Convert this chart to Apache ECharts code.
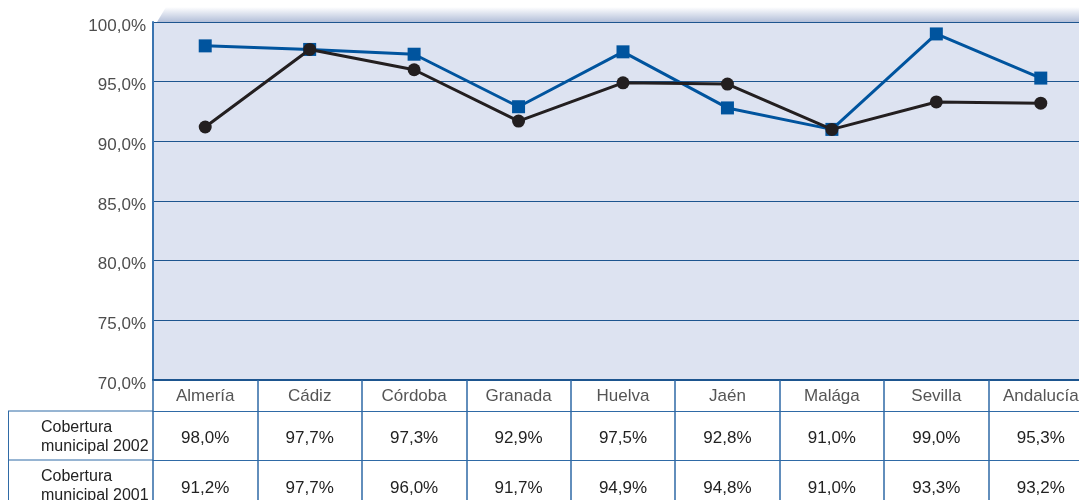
<!DOCTYPE html>
<html><head><meta charset="utf-8">
<script src="https://cdn.jsdelivr.net/npm/echarts@6/dist/echarts.min.js"></script>
<style>html,body{margin:0;padding:0;background:#fff;overflow:hidden;width:1079px;height:500px}#c{width:1093px;height:500px}</style>
</head><body><div id="c"></div>
<script>
const categories = ['Almería','Cádiz','Córdoba','Granada','Huelva','Jaén','Malága','Sevilla','Andalucía'];
const cobertura2002 = [98.0, 97.7, 97.3, 92.9, 97.5, 92.8, 91.0, 99.0, 95.3];
const cobertura2001 = [91.2, 97.7, 96.0, 91.7, 94.9, 94.8, 91.0, 93.3, 93.2];
const rowLabels = ['Cobertura\nmunicipal 2002', 'Cobertura\nmunicipal 2001'];
const yMin = 70, yMax = 100, yStep = 5;

const fmt = v => v.toFixed(1).replace('.', ',') + '%';
const FONT = '"Liberation Sans", Arial, sans-serif';
const chart = echarts.init(document.getElementById('c'), null, {renderer: 'canvas'});

const tableAxis = (offset, values, margin) => ({
  type: 'category', data: categories, position: 'bottom', offset: offset,
  axisLine: {show: true, lineStyle: {color: '#2f6aa6', width: 1}},
  axisTick: {show: false},
  axisLabel: {interval: 0, margin: margin, fontSize: 17, color: '#222', fontFamily: FONT,
    formatter: (v, i) => fmt(values[i])},
  splitLine: {show: false}
});

chart.setOption({
  animation: false,
  grid: {left: 153, top: 22, right: 0, height: 358, show: true, backgroundColor: '#dde3f1', borderWidth: 0, outerBoundsMode: 'none'},
  xAxis: [
    {
      type: 'category', data: categories, boundaryGap: true, position: 'bottom',
      axisLine: {show: true, lineStyle: {color: '#1d558f', width: 2}},
      axisTick: {show: true, interval: 0, length: 120, lineStyle: {color: '#2f6aa6', width: 1.5}},
      axisLabel: {interval: 0, margin: 8, fontSize: 17, color: '#555', fontFamily: FONT},
      splitLine: {show: false}
    },
    tableAxis(31, cobertura2002, 19),
    tableAxis(80, cobertura2001, 20)
  ],
  yAxis: {
    type: 'value', min: yMin, max: yMax, interval: yStep,
    axisLine: {show: true, lineStyle: {color: '#3a74b0', width: 2}},
    axisTick: {show: false},
    axisLabel: {formatter: fmt, fontSize: 17, color: '#4d4d4d', margin: 7, fontFamily: FONT,
      verticalAlign: 'top', lineHeight: 8},
    splitLine: {show: true, lineStyle: {color: '#1d558f', width: 1}}
  },
  series: [
    {
      name: 'Cobertura municipal 2002', type: 'line', data: cobertura2002,
      symbol: 'rect', symbolSize: 13, z: 3,
      lineStyle: {color: '#00549e', width: 3},
      itemStyle: {color: '#00549e'}
    },
    {
      name: 'Cobertura municipal 2001', type: 'line', data: cobertura2001,
      symbol: 'circle', symbolSize: 13, z: 4,
      lineStyle: {color: '#231f20', width: 3},
      itemStyle: {color: '#231f20'}
    }
  ],
  graphic: [
    {type: 'polygon', shape: {points: [[157, 22], [166, 7], [1093, 7], [1093, 22]]},
      style: {fill: {type: 'linear', x: 0, y: 0, x2: 0, y2: 1,
        colorStops: [{offset: 0, color: '#ffffff'}, {offset: 1, color: '#b3bfd9'}]}}, z: 1},
    {type: 'line', shape: {x1: 8, y1: 411, x2: 153, y2: 411}, style: {stroke: '#2f6aa6', lineWidth: 1}},
    {type: 'line', shape: {x1: 8, y1: 460, x2: 153, y2: 460}, style: {stroke: '#2f6aa6', lineWidth: 1}},
    {type: 'line', shape: {x1: 8.5, y1: 411, x2: 8.5, y2: 500}, style: {stroke: '#2f6aa6', lineWidth: 1}},
    {type: 'text', left: 41, top: 418, style: {text: rowLabels[0], fontSize: 16, lineHeight: 19, fill: '#222', fontFamily: FONT}},
    {type: 'text', left: 41, top: 467, style: {text: rowLabels[1], fontSize: 16, lineHeight: 19, fill: '#222', fontFamily: FONT}}
  ]
});
</script></body></html>
